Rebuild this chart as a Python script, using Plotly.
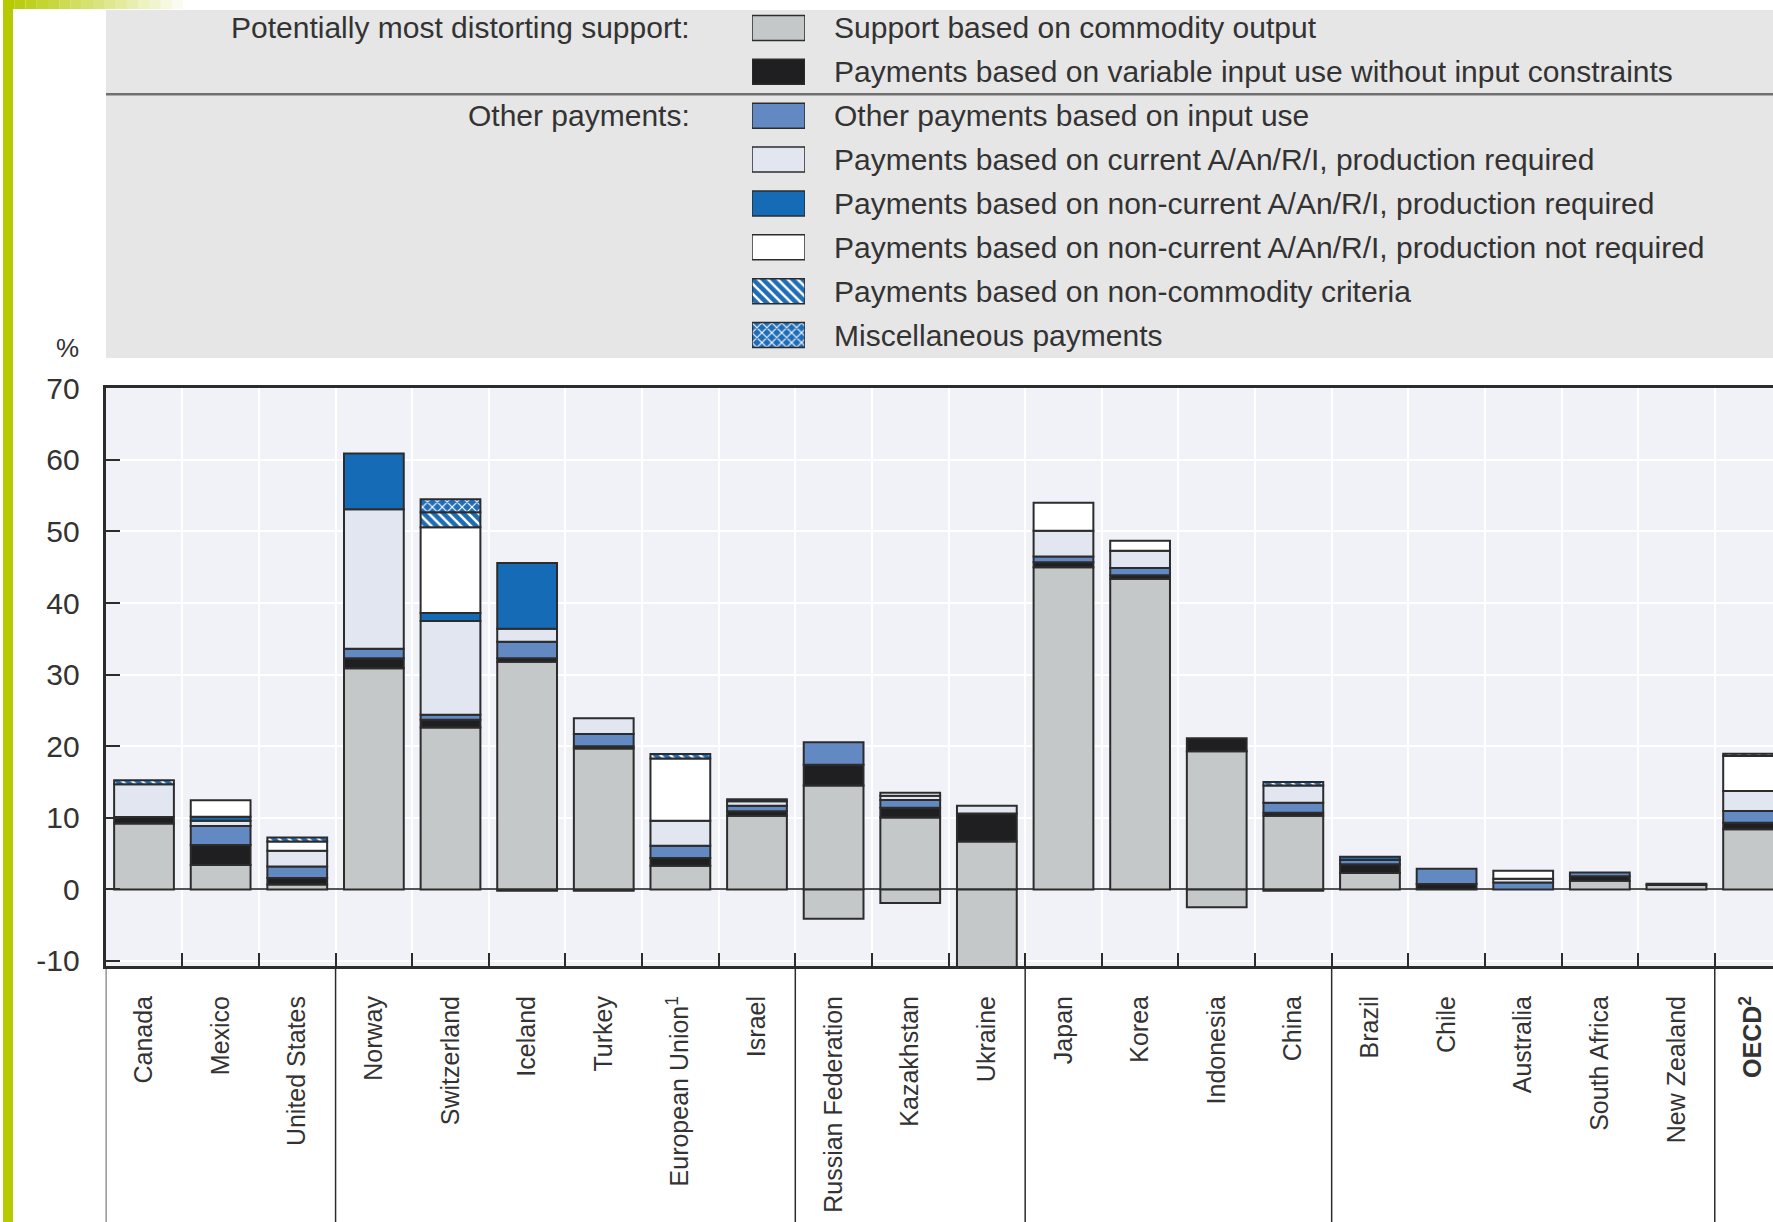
import plotly.graph_objects as go

W, H = 1773, 1222

# ---------------- data ----------------
categories = ["Canada", "Mexico", "United States", "Norway", "Switzerland", "Iceland",
              "Turkey", "European Union<sup>1</sup>", "Israel", "Russian Federation",
              "Kazakhstan", "Ukraine", "Japan", "Korea", "Indonesia", "China", "Brazil",
              "Chile", "Australia", "South Africa", "New Zealand", "<b>OECD<sup>2</sup></b>"]

commodity_output = [9.2, 3.4, 0.7, 30.9, 22.6, 31.8, 19.7, 3.3, 10.3, 14.5, 10.05, 6.7,
                    45.0, 43.4, 19.3, 10.3, 2.3, 0.0, 0.0, 1.2, 0.6, 8.4]
commodity_output_negative = [0, 0, 0, 0, 0, -0.2, -0.2, 0, 0, -4.1, -1.9, -12.0,
                             0, 0, -2.5, -0.2, 0, 0, 0, 0, 0, 0]
variable_input = [0.9, 2.8, 0.9, 1.4, 1.1, 0.5, 0.3, 1.1, 0.6, 2.9, 1.35, 3.9,
                  0.7, 0.5, 1.8, 0.4, 1.2, 0.75, 0.0, 0.65, 0.2, 0.9]
other_input = [0.0, 2.65, 1.6, 1.3, 0.7, 2.3, 1.7, 1.7, 0.8, 3.15, 1.1, 0.0,
               0.8, 1.0, 0.0, 1.4, 0.6, 2.15, 0.95, 0.5, 0.0, 1.65]
current_prod_req = [4.6, 0.75, 2.2, 19.5, 13.1, 1.8, 2.2, 3.5, 0.6, 0.0, 0.6, 1.1,
                    3.6, 2.4, 0.0, 2.4, 0.0, 0.0, 0.55, 0.0, 0.0, 2.8]
noncurrent_prod_req = [0.0, 0.55, 0.0, 7.8, 1.1, 9.2, 0.0, 0.0, 0.3, 0.0, 0.0, 0.0,
                       0.0, 0.0, 0.0, 0.0, 0.45, 0.0, 0.0, 0.0, 0.0, 0.0]
noncurrent_not_req = [0.0, 2.3, 1.3, 0.0, 12.0, 0.0, 0.0, 8.7, 0.0, 0.0, 0.4, 0.0,
                      3.9, 1.4, 0.0, 0.0, 0.0, 0.0, 1.1, 0.0, 0.0, 4.9]
non_commodity = [0.55, 0.0, 0.55, 0.0, 2.1, 0.0, 0.0, 0.6, 0.0, 0.0, 0.0, 0.0,
                 0.0, 0.0, 0.0, 0.5, 0.0, 0.0, 0.0, 0.0, 0.0, 0.3]
miscellaneous = [0.0, 0.0, 0.0, 0.0, 1.8, 0.0, 0.0, 0.0, 0.0, 0.0, 0.0, 0.0,
                 0.0, 0.0, 0.0, 0.0, 0.0, 0.0, 0.0, 0.0, 0.0, 0.0]

legend_labels = ["Support based on commodity output",
                 "Payments based on variable input use without input constraints",
                 "Other payments based on input use",
                 "Payments based on current A/An/R/I, production required",
                 "Payments based on non-current A/An/R/I, production required",
                 "Payments based on non-current A/An/R/I, production not required",
                 "Payments based on non-commodity criteria",
                 "Miscellaneous payments"]
group_headings = ["Potentially most distorting support:", "Other payments:"]
group_boundaries = [-0.5, 2.5, 8.5, 11.5, 15.5, 20.5]
y_ticks = [70, 60, 50, 40, 30, 20, 10, 0, -10]
y_tick_text = ["70", "60", "50", "40", "30", "20", "10", "0", "-10"]

# ---------------- styles ----------------
GRAY = "#c5c8c9"
BLACK = "#1f1e20"
INPUT_BLUE = "#6389c3"
LAVENDER = "#e1e6f1"
DARK_BLUE = "#166bb6"
WHITE = "#ffffff"
HATCH_BLUE = "#1f6cb8"
OUTLINE = "#2c2c2c"
PLOT_BG = "#f0f2f7"
LEGEND_BG = "#e6e6e6"
GREEN = "#b6ca00"
TXT = "#333333"
FONT = "Liberation Sans, Arial, sans-serif"

styles = [
    dict(color=GRAY),
    dict(color=BLACK),
    dict(color=INPUT_BLUE),
    dict(color=LAVENDER),
    dict(color=DARK_BLUE),
    dict(color=WHITE),
    dict(color=HATCH_BLUE, pattern=dict(shape="\\", fgcolor="white", bgcolor=HATCH_BLUE,
                                         size=7, solidity=0.35, fillmode="replace")),
    dict(color=HATCH_BLUE, pattern=dict(shape="x", fgcolor="white", bgcolor=HATCH_BLUE,
                                         size=7, solidity=0.3, fillmode="replace")),
]
series = [commodity_output, variable_input, other_input, current_prod_req,
          noncurrent_prod_req, noncurrent_not_req, non_commodity, miscellaneous]


def px(x):
    return x / W


def py(y):
    return 1 - y / H


def nz(vals):
    return [v if v != 0 else None for v in vals]


fig = go.Figure()
for vals, st, name in zip(series, styles, legend_labels):
    fig.add_trace(go.Bar(x=categories, y=nz(vals), name=name, width=0.78,
                         marker=dict(line=dict(color=OUTLINE, width=2), **st),
                         showlegend=False))
fig.add_trace(go.Bar(x=categories, y=nz(commodity_output_negative), name=legend_labels[0],
                     width=0.78, marker=dict(color=GRAY, line=dict(color=OUTLINE, width=2)),
                     showlegend=False))

# legend swatches on their own small axes
for i, st in enumerate(styles):
    fig.add_trace(go.Bar(x=[1], y=[i], base=0, orientation="h", width=0.57,
                         xaxis="x2", yaxis="y2", showlegend=False, hoverinfo="skip",
                         marker=dict(line=dict(color=OUTLINE, width=1.5), **st)))

plot_left, plot_top, plot_bottom = 105.7, 388.3, 966.0

fig.update_layout(
    width=W, height=H,
    margin=dict(l=0, r=0, t=0, b=0),
    paper_bgcolor="white",
    plot_bgcolor="rgba(0,0,0,0)",
    barmode="relative",
    font=dict(family=FONT, color=TXT),
    xaxis=dict(type="category", categoryorder="array", categoryarray=categories,
               domain=[px(plot_left), 1], range=[-0.5, 21.26],
               tickson="boundaries", ticks="inside", ticklen=13, tickwidth=1.5,
               tickcolor=OUTLINE, tickangle=-90, ticklabelstandoff=17,
               tickfont=dict(size=25, color=TXT, family=FONT),
               showgrid=True, gridcolor="white", gridwidth=2,
               showline=True, linewidth=3, linecolor=OUTLINE, mirror=True,
               automargin=False, fixedrange=True),
    yaxis=dict(domain=[py(plot_bottom), py(plot_top)], range=[-10.7, 70],
               tickmode="array", tickvals=y_ticks, ticktext=y_tick_text,
               ticks="inside", ticklen=14, tickwidth=2, tickcolor=OUTLINE,
               ticklabelstandoff=17,
               tickfont=dict(size=30, color=TXT, family=FONT),
               showgrid=True, gridcolor="white", gridwidth=2,
               zeroline=True, zerolinecolor="#555555", zerolinewidth=2,
               showline=True, linewidth=3, linecolor=OUTLINE,
               automargin=False, fixedrange=True),
    xaxis2=dict(domain=[px(752), px(805)], range=[0, 1], anchor="y2",
                visible=False, fixedrange=True),
    yaxis2=dict(domain=[py(357), py(6)], range=[7.5, -0.5], anchor="x2",
                visible=False, fixedrange=True),
)

shapes = []
# legend background and separator
shapes.append(dict(type="rect", xref="paper", yref="paper", x0=px(106), x1=1,
                   y0=py(358), y1=py(10), fillcolor=LEGEND_BG, line=dict(width=0), layer="below"))
shapes.append(dict(type="line", xref="paper", yref="paper", x0=px(106), x1=1,
                   y0=py(94.3), y1=py(94.3), line=dict(color="#707070", width=2.5)))
# plot background
shapes.append(dict(type="rect", xref="x domain", yref="y domain", x0=0, x1=1, y0=0, y1=1,
                   fillcolor=PLOT_BG, line=dict(width=0), layer="below"))
# green frame accents
shapes.append(dict(type="rect", xref="paper", yref="paper", x0=px(3), x1=px(13),
                   y0=0, y1=1, fillcolor=GREEN, line=dict(width=0)))
n_steps = 16
for k in range(n_steps):
    shapes.append(dict(type="rect", xref="paper", yref="paper",
                       x0=px(3 + k * 180 / n_steps), x1=px(3 + (k + 1) * 180 / n_steps),
                       y0=py(9), y1=1, fillcolor=GREEN, opacity=1 - k / n_steps,
                       line=dict(width=0)))
# group separators below the axis
for b in group_boundaries:
    shapes.append(dict(type="line", xref="x", yref="paper", x0=b, x1=b,
                       y0=0, y1=py(plot_bottom), line=dict(color=OUTLINE, width=1.5)))
fig.update_layout(shapes=shapes)

annotations = []
row_y = [6 + 43.875 * (i + 0.5) for i in range(8)]
for i, lab in enumerate(legend_labels):
    annotations.append(dict(x=px(832), y=py(row_y[i]), xref="paper", yref="paper",
                            text=lab, showarrow=False, xanchor="left", yanchor="middle",
                            font=dict(size=30, color=TXT, family=FONT)))
for txt, r in zip(group_headings, [0, 2]):
    annotations.append(dict(x=px(692), y=py(row_y[r]), xref="paper", yref="paper",
                            text=txt, showarrow=False, xanchor="right", yanchor="middle",
                            font=dict(size=30, color=TXT, family=FONT)))
annotations.append(dict(x=px(67), y=py(348), xref="paper", yref="paper", text="%",
                        showarrow=False, xanchor="center", yanchor="middle",
                        font=dict(size=26, color=TXT, family=FONT)))
fig.update_layout(annotations=annotations)

fig.write_html("out.html", config={"displayModeBar": False},
               post_script="document.body.style.margin='0px';")
